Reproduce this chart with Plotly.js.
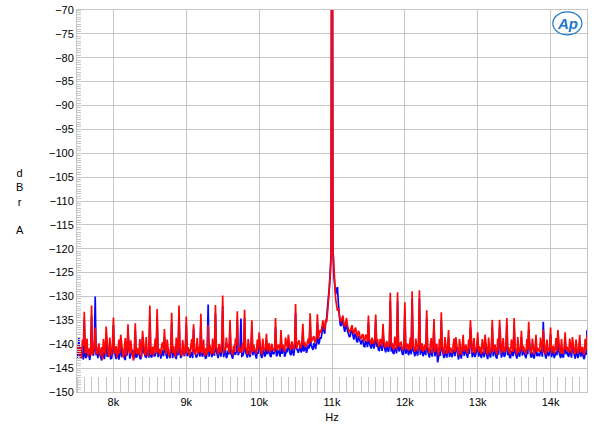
<!DOCTYPE html>
<html>
<head>
<meta charset="utf-8">
<script src="https://cdn.plot.ly/plotly-3.0.1.min.js"></script>
<style>html,body{margin:0;padding:0;background:#fff;}#chart{width:600px;height:436px;}</style>
</head>
<body>
<div id="chart"></div>
<script>
// Frequency grid: starts at 7500 Hz, one value every 12.5 Hz (up to 14500 Hz)
const freqStart = 7500;
const freqStep = 12.5;

// Red trace (dBr A), 8 values per 100 Hz
const redLevels = [
-141.0,-140.2,-142.3,-141.5,-140.6,-143.0,-139.0,-140.4,
-133.2,-141.9,-141.5,-138.8,-142.6,-141.1,-140.9,-142.4,
-131.9,-142.2,-141.2,-140.5,-136.5,-141.8,-142.0,-140.9,
-139.8,-142.5,-141.4,-140.6,-143.2,-138.9,-140.7,-142.1,
-136.3,-140.8,-141.9,-142.7,-138.6,-141.3,-142.4,-139.9,
-134.4,-142.0,-141.0,-140.4,-142.8,-141.6,-139.0,-141.9,
-138.0,-140.9,-141.6,-142.8,-140.1,-138.7,-142.5,-140.7,
-135.8,-141.3,-142.0,-139.2,-141.1,-142.6,-143.4,-141.0,
-135.6,-142.1,-140.8,-141.5,-142.2,-138.9,-141.3,-142.7,
-137.2,-140.6,-141.7,-142.3,-138.5,-141.4,-142.6,-140.8,
-131.9,-142.2,-141.3,-140.5,-142.4,-141.0,-138.8,-141.9,
-132.6,-141.7,-140.9,-142.3,-141.8,-140.2,-139.6,-141.4,
-136.8,-140.8,-142.1,-139.0,-140.7,-142.5,-141.9,-140.5,
-133.4,-141.9,-140.4,-141.6,-142.7,-138.6,-141.2,-142.0,
-131.9,-140.7,-141.8,-142.6,-139.1,-141.5,-142.3,-140.8,
-134.2,-141.8,-140.6,-142.4,-141.9,-140.4,-138.9,-141.7,
-135.8,-140.9,-142.2,-141.3,-138.7,-142.1,-140.5,-141.6,
-133.6,-142.0,-141.4,-139.0,-142.5,-141.2,-140.8,-142.3,
-136.0,-141.5,-140.2,-142.0,-141.6,-138.8,-142.1,-141.0,
-131.8,-140.6,-141.1,-142.2,-139.9,-141.4,-141.7,-138.9,
-129.8,-141.9,-140.7,-141.3,-138.6,-140.5,-140.4,-141.8,
-134.9,-140.8,-141.5,-142.3,-140.3,-141.6,-138.8,-140.2,
-133.1,-141.7,-140.6,-141.2,-141.8,-140.4,-139.7,-141.5,
-132.8,-140.5,-141.2,-142.1,-138.9,-141.3,-142.2,-140.9,
-135.0,-141.6,-140.1,-140.9,-141.4,-142.0,-139.0,-141.2,
-137.5,-140.3,-141.6,-142.2,-138.8,-141.1,-141.3,-140.6,
-137.8,-141.5,-140.4,-139.8,-141.7,-140.6,-139.9,-141.2,
-140.9,-141.6,-134.5,-140.8,-141.1,-140.2,-140.3,-141.4,
-137.0,-140.7,-140.0,-141.3,-141.5,-138.6,-139.6,-140.8,
-138.0,-139.8,-140.8,-141.2,-139.4,-140.6,-141.0,-139.7,
-131.6,-140.9,-140.1,-139.6,-139.2,-140.7,-140.6,-139.5,
-135.7,-140.2,-139.5,-140.6,-140.4,-139.3,-138.8,-139.9,
-133.5,-139.6,-139.0,-138.4,-138.3,-139.5,-139.4,-138.2,
-133.7,-138.9,-138.2,-137.0,-137.6,-136.4,-135.0,-136.2,
-137.0,-134.8,-135.4,-133.6,-131.2,-129.0,-126.0,-122.0,
0.0,-120.0,-124.0,-128.0,-130.5,-131.8,-133.0,-132.5,
-133.8,-135.0,-135.2,-134.3,-134.0,-135.8,-136.3,-135.4,
-134.5,-136.1,-136.8,-137.5,-137.2,-136.4,-136.0,-137.3,
-137.8,-136.9,-136.5,-138.0,-138.4,-137.2,-137.6,-138.7,
-138.9,-138.1,-137.9,-139.3,-139.2,-138.0,-138.3,-139.5,
-134.0,-138.8,-139.4,-140.0,-138.6,-139.7,-139.8,-138.9,
-133.8,-139.6,-138.9,-140.4,-140.3,-139.0,-139.1,-140.5,
-135.7,-139.5,-140.1,-140.8,-139.3,-140.2,-140.6,-139.4,
-129.2,-140.6,-139.7,-140.9,-141.0,-138.4,-140.0,-141.1,
-129.1,-140.2,-140.5,-139.7,-139.6,-141.0,-141.2,-140.3,
-131.2,-141.1,-140.2,-139.9,-141.4,-140.5,-138.6,-141.2,
-128.9,-140.4,-140.8,-141.6,-138.8,-140.7,-141.5,-140.1,
-128.7,-141.3,-140.3,-139.8,-141.6,-140.9,-140.1,-141.4,
-132.9,-140.5,-141.1,-141.9,-140.0,-138.7,-141.8,-140.2,
-134.7,-141.6,-140.4,-139.9,-141.7,-142.3,-138.9,-141.5,
-133.3,-140.3,-141.3,-142.1,-138.5,-141.0,-142.0,-140.7,
-137.0,-141.8,-140.7,-141.2,-141.9,-140.4,-138.8,-141.6,
-138.5,-140.2,-141.6,-142.4,-138.9,-141.3,-142.2,-140.6,
-138.0,-141.5,-140.9,-140.1,-141.4,-142.0,-139.0,-141.1,
-135.0,-140.6,-141.8,-141.2,-138.7,-141.9,-141.3,-140.4,
-137.5,-141.7,-140.4,-141.1,-142.1,-138.9,-140.8,-141.9,
-138.0,-140.9,-141.5,-142.3,-138.6,-141.4,-141.9,-140.5,
-134.9,-141.6,-140.7,-140.1,-141.6,-142.2,-138.8,-141.3,
-134.9,-140.5,-141.9,-141.1,-138.7,-141.7,-141.4,-140.2,
-134.5,-141.4,-140.6,-141.8,-142.0,-139.0,-140.9,-141.6,
-134.5,-140.8,-141.2,-142.2,-138.5,-141.3,-141.7,-140.4,
-137.2,-141.5,-140.3,-140.9,-141.8,-142.1,-138.9,-141.2,
-135.3,-140.7,-141.4,-142.0,-138.8,-141.5,-142.1,-140.8,
-138.0,-141.6,-140.8,-141.3,-141.6,-138.6,-140.2,-141.7,
-137.0,-140.5,-141.7,-142.2,-139.0,-141.1,-141.5,-140.6,
-136.5,-141.8,-140.9,-140.3,-142.0,-141.2,-138.7,-141.4,
-137.0,-140.6,-141.3,-142.0,-138.9,-141.6,-141.9,-140.7,
-137.5,-141.2,-140.5,-141.4,-141.7,-138.8,-140.7,-141.9,
-138.5,-140.4,-141.6,-142.1,-139.0,-141.0,-142.0,-140.9,
-138.0,-141.7,-141.0,-140.5,-141.8,-142.2,-138.9,-141.3,
-138.0
];

// Blue trace (dBr A), 8 values per 100 Hz
const blueLevels = [
-143.0,-142.1,-138.6,-142.5,-142.8,-141.6,-141.5,-143.2,
-135.0,-142.6,-142.9,-141.4,-141.2,-142.8,-143.3,-141.7,
-134.0,-141.9,-142.4,-141.0,-130.0,-142.3,-141.6,-142.9,
-140.5,-141.8,-142.8,-143.4,-141.0,-142.0,-143.1,-141.5,
-138.0,-142.6,-142.2,-141.3,-141.4,-143.0,-142.9,-141.8,
-136.0,-141.5,-142.6,-143.1,-141.3,-142.2,-143.2,-141.9,
-139.5,-142.7,-141.8,-141.2,-142.9,-143.3,-141.0,-142.4,
-137.5,-141.9,-143.0,-142.3,-141.7,-141.2,-142.4,-143.0,
-137.0,-142.8,-142.5,-141.6,-141.1,-142.9,-143.1,-141.8,
-138.5,-141.7,-141.9,-142.6,-142.7,-141.3,-141.4,-142.8,
-134.0,-142.4,-142.8,-141.7,-141.5,-142.6,-142.3,-141.4,
-134.5,-142.7,-141.6,-141.1,-143.0,-142.2,-141.2,-142.5,
-138.5,-141.6,-142.4,-143.0,-141.3,-141.8,-142.9,-141.7,
-135.5,-142.9,-141.7,-141.3,-142.6,-143.1,-141.0,-142.3,
-133.5,-141.8,-142.9,-142.2,-141.4,-141.7,-142.5,-141.5,
-136.0,-142.5,-141.5,-141.0,-142.8,-142.3,-141.6,-142.9,
-136.7,-141.4,-141.9,-142.8,-142.4,-141.5,-141.3,-142.6,
-135.5,-142.1,-142.6,-141.7,-141.2,-142.9,-142.8,-141.4,
-131.7,-142.6,-141.4,-141.2,-142.7,-142.0,-141.5,-142.4,
-133.5,-141.5,-142.3,-142.9,-141.0,-141.6,-142.6,-141.3,
-132.0,-142.7,-141.8,-141.1,-142.9,-142.4,-141.3,-142.1,
-136.5,-141.9,-142.5,-143.0,-141.4,-141.7,-142.2,-141.5,
-135.0,-142.3,-141.6,-141.1,-134.6,-142.5,-142.4,-141.8,
-134.5,-141.4,-142.1,-142.8,-141.3,-142.0,-142.7,-141.2,
-136.8,-142.3,-141.2,-141.6,-142.5,-143.0,-141.6,-142.0,
-139.0,-141.8,-142.3,-142.9,-141.4,-141.5,-142.6,-142.2,
-139.0,-142.1,-141.5,-141.0,-142.4,-142.7,-141.1,-141.9,
-142.0,-141.6,-136.5,-142.5,-142.2,-141.3,-141.4,-142.6,
-138.5,-142.0,-141.3,-140.8,-142.6,-142.1,-140.9,-141.7,
-139.5,-141.2,-142.0,-142.3,-140.8,-141.6,-142.4,-140.7,
-133.5,-140.9,-141.2,-141.8,-140.6,-140.3,-141.7,-141.3,
-137.0,-141.5,-140.9,-140.4,-141.8,-141.0,-140.2,-140.9,
-135.0,-140.3,-140.6,-141.2,-139.8,-140.1,-141.0,-139.5,
-135.5,-140.0,-139.7,-138.5,-138.8,-137.6,-136.2,-137.0,
-137.8,-135.6,-134.8,-132.4,-130.8,-128.2,-125.0,-121.0,
0.0,-119.0,-125.5,-127.5,-129.5,-128.5,-128.0,-131.5,
-134.5,-135.9,-136.2,-135.0,-135.5,-136.8,-137.4,-136.1,
-136.0,-137.2,-137.9,-138.4,-138.3,-137.1,-137.2,-138.2,
-139.0,-138.0,-137.8,-139.3,-139.6,-138.3,-138.9,-139.7,
-140.0,-139.2,-139.1,-140.4,-140.5,-139.3,-139.6,-140.6,
-135.5,-139.8,-140.3,-140.9,-139.5,-140.6,-140.9,-139.7,
-135.0,-140.5,-139.9,-141.2,-141.3,-140.0,-140.1,-141.4,
-137.0,-140.4,-141.2,-141.7,-140.3,-141.1,-141.6,-140.5,
-131.0,-141.5,-140.8,-141.8,-142.0,-140.7,-141.0,-141.9,
-131.0,-141.1,-141.5,-140.6,-140.6,-141.9,-142.2,-141.2,
-133.0,-142.0,-141.2,-140.9,-142.3,-141.4,-140.8,-142.1,
-130.5,-141.3,-141.7,-142.5,-140.9,-141.6,-142.4,-141.0,
-130.5,-142.2,-141.3,-140.7,-142.5,-141.8,-141.1,-142.3,
-134.5,-141.4,-142.1,-142.8,-141.0,-141.7,-142.6,-141.2,
-136.0,-142.5,-141.4,-140.8,-143.8,-142.2,-141.6,-142.4,
-135.0,-141.2,-142.2,-142.9,-141.2,-141.9,-142.8,-141.6,
-138.5,-142.7,-141.6,-142.1,-142.7,-141.3,-141.3,-142.5,
-140.0,-141.1,-142.5,-143.2,-141.4,-142.2,-143.0,-141.5,
-139.5,-142.4,-141.8,-141.0,-142.3,-142.8,-141.0,-142.0,
-136.5,-141.5,-142.7,-142.1,-141.6,-142.7,-142.2,-141.3,
-139.0,-142.6,-141.4,-142.0,-142.9,-141.7,-141.7,-142.7,
-139.5,-141.8,-142.4,-143.1,-141.2,-142.3,-142.8,-141.4,
-136.5,-142.5,-141.7,-141.0,-142.6,-143.0,-141.4,-142.2,
-136.5,-141.4,-142.8,-142.0,-141.3,-142.6,-142.4,-141.1,
-136.0,-142.3,-141.6,-142.7,-142.9,-141.4,-141.9,-142.5,
-136.0,-141.7,-142.2,-143.0,-141.5,-142.2,-142.6,-141.3,
-138.5,-142.4,-141.3,-141.8,-142.7,-142.9,-141.6,-142.1,
-137.0,-141.6,-142.4,-142.8,-141.7,-142.4,-143.0,-141.7,
-139.5,-142.5,-141.8,-142.2,-142.5,-141.3,-141.2,-142.6,
-135.3,-141.4,-142.6,-143.0,-141.4,-142.0,-142.5,-141.5,
-138.0,-142.7,-141.9,-141.2,-142.9,-142.1,-141.6,-142.3,
-138.5,-141.5,-142.3,-142.9,-141.8,-142.5,-142.8,-141.6,
-139.0,-142.1,-141.5,-142.3,-142.6,-141.2,-141.7,-142.8,
-140.0,-141.3,-142.6,-143.0,-141.3,-141.9,-142.9,-141.8,
-139.5,-142.6,-142.0,-141.4,-142.7,-143.1,-141.8,-142.2,
-137.0
];

// Tick labels
const xTickVals = [8000, 9000, 10000, 11000, 12000, 13000, 14000];
const xTickText = ['8k', '9k', '10k', '11k', '12k', '13k', '14k'];
const yTickVals = [-70,-75,-80,-85,-90,-95,-100,-105,-110,-115,-120,-125,-130,-135,-140,-145,-150];

const traces = [
  {type:'scatter', mode:'lines', x0:freqStart, dx:freqStep, y:blueLevels,
   line:{color:'#0505ff', width:1.7}, hoverinfo:'skip'},
  {type:'scatter', mode:'lines', x0:freqStart, dx:freqStep, y:redLevels,
   line:{color:'#ff0505', width:1.7}, hoverinfo:'skip'}
];

const grid = '#c6c6c6';
const layout = {
  width:600, height:436,
  margin:{l:77, r:13, t:10, b:44},
  paper_bgcolor:'#ffffff', plot_bgcolor:'#ffffff',
  showlegend:false,
  font:{family:'"Liberation Sans", Arial, sans-serif', size:11, color:'#000'},
  xaxis:{
    range:[7500,14500], tickmode:'array', tickvals:xTickVals, ticktext:xTickText,
    showgrid:true, gridcolor:grid, gridwidth:1, zeroline:false,
    showline:true, linecolor:grid, linewidth:1, mirror:true, ticks:'',
    title:{text:'Hz', standoff:6, font:{size:11}},
    minor:{tickmode:'linear', tick0:7500, dtick:100, ticks:'inside', ticklen:15,
           tickcolor:grid, tickwidth:1, showgrid:false}
  },
  yaxis:{
    range:[-150,-70], tickmode:'array', tickvals:yTickVals,
    showgrid:true, gridcolor:grid, gridwidth:1, zeroline:false,
    showline:true, linecolor:grid, linewidth:1, mirror:true, ticks:'',
    minor:{tickmode:'linear', tick0:-150, dtick:0.5, ticks:'inside', ticklen:4,
           tickcolor:grid, tickwidth:1, showgrid:false}
  },
  annotations:[
    {text:'d<br>B<br>r<br><br>A', xref:'paper', yref:'paper', x:-0.112, y:0.5,
     xanchor:'center', yanchor:'middle', showarrow:false, align:'center',
     font:{size:11, color:'#000'}},
    {text:'<b><i>Ap</i></b>', xref:'paper', yref:'paper', x:0.962, y:0.965,
     xanchor:'center', yanchor:'middle', showarrow:false,
     font:{size:15, color:'#1e78c8', family:'"Liberation Sans", Arial, sans-serif'}}
  ],
  shapes:[
    {type:'circle', xref:'paper', yref:'paper', x0:0.933, x1:0.99, y0:0.935, y1:0.995,
     line:{color:'#1e78c8', width:1.2}}
  ]
};

Plotly.newPlot('chart', traces, layout, {staticPlot:true, displayModeBar:false});
</script>
</body>
</html>
